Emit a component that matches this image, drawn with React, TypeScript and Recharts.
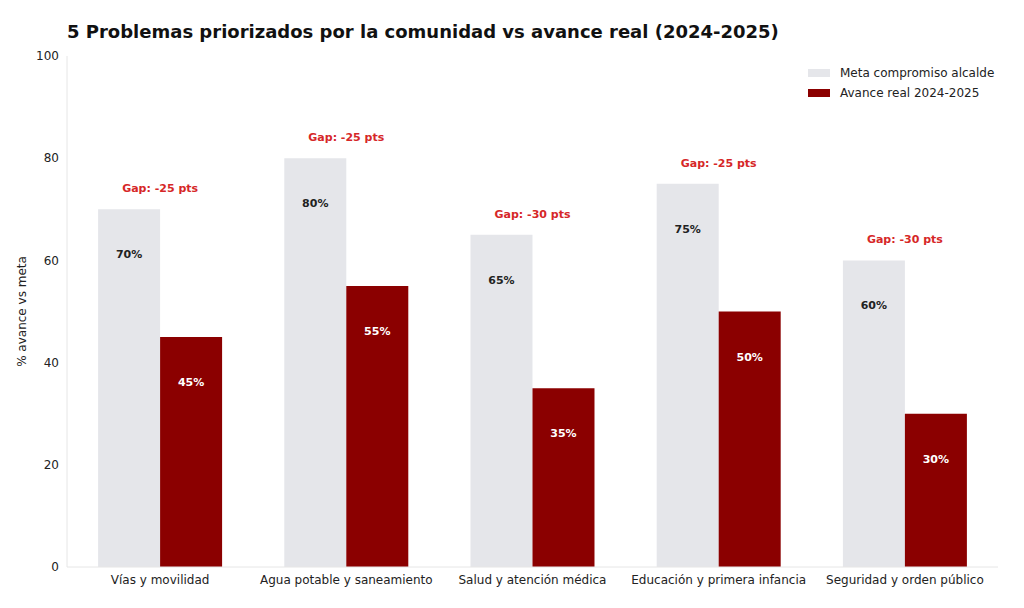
import React from 'react';
import { BarChart, Bar, XAxis, YAxis, LabelList } from 'recharts';

const categories = ['Vías y movilidad', 'Agua potable y saneamiento', 'Salud y atención médica', 'Educación y primera infancia', 'Seguridad y orden público'];
const meta = [70, 80, 65, 75, 60];
const avance = [45, 55, 35, 50, 30];
const yTicks = [0, 20, 40, 60, 80, 100];

const data = categories.map((c, i) => ({ name: c, meta: meta[i], avance: avance[i], gap: avance[i] - meta[i] }));

const font = 'DejaVu Sans, sans-serif';

const GapLabel = (props: any) => {
  const { x, y, width, index } = props;
  return (
    <text x={x + width} y={y - 17} textAnchor="middle" fill="#d62728" fontSize={11} fontWeight="bold" fontFamily={font}>
      {`Gap: ${data[index].gap} pts`}
    </text>
  );
};

const ValLabel = (color: string) => (props: any) => {
  const { x, y, width, value } = props;
  return (
    <text x={x + width / 2} y={y + 49} textAnchor="middle" fill={color} fontSize={11} fontWeight="bold" fontFamily={font}>
      {`${value}%`}
    </text>
  );
};

export default function App() {
  return (
    <div style={{ position: 'absolute', left: 0, top: 0, width: 1024, height: 608, background: '#fff', fontFamily: font }}>
      <div style={{ position: 'absolute', left: 67, top: 21, fontSize: 18, fontWeight: 'bold', color: '#111' }}>
        5 Problemas priorizados por la comunidad vs avance real (2024-2025)
      </div>
      <div style={{ position: 'absolute', left: 808, top: 63, fontSize: 12, color: '#222', lineHeight: '20px' }}>
        <div style={{ display: 'flex', alignItems: 'center' }}>
          <span style={{ display: 'inline-block', width: 22, height: 8, background: '#e5e6ea', marginRight: 10 }} />Meta compromiso alcalde
        </div>
        <div style={{ display: 'flex', alignItems: 'center' }}>
          <span style={{ display: 'inline-block', width: 22, height: 8, background: '#8b0000', marginRight: 10 }} />Avance real 2024-2025
        </div>
      </div>
      <BarChart width={1024} height={608} data={data} margin={{ top: 56, right: 26, left: 0, bottom: 13 }} barCategoryGap="16.7%" barGap={0}>
        <XAxis dataKey="name" stroke="#e6e6e6" tickLine={false} tick={{ fill: '#222', fontSize: 12, fontFamily: font }} height={28} />
        <YAxis width={67} domain={[0, 100]} ticks={yTicks} stroke="#e6e6e6" tickLine={false} tick={{ fill: '#222', fontSize: 12, fontFamily: font }}
          label={{ value: '% avance vs meta', angle: -90, position: 'insideLeft', offset: 22, style: { fill: '#222', fontSize: 12, fontFamily: font, textAnchor: 'middle' } }} />
        <Bar dataKey="meta" fill="#e5e6ea" isAnimationActive={false}>
          <LabelList dataKey="meta" content={ValLabel('#222')} />
          <LabelList dataKey="meta" content={GapLabel} />
        </Bar>
        <Bar dataKey="avance" fill="#8b0000" isAnimationActive={false}>
          <LabelList dataKey="avance" content={ValLabel('#fff')} />
        </Bar>
      </BarChart>
    </div>
  );
}
